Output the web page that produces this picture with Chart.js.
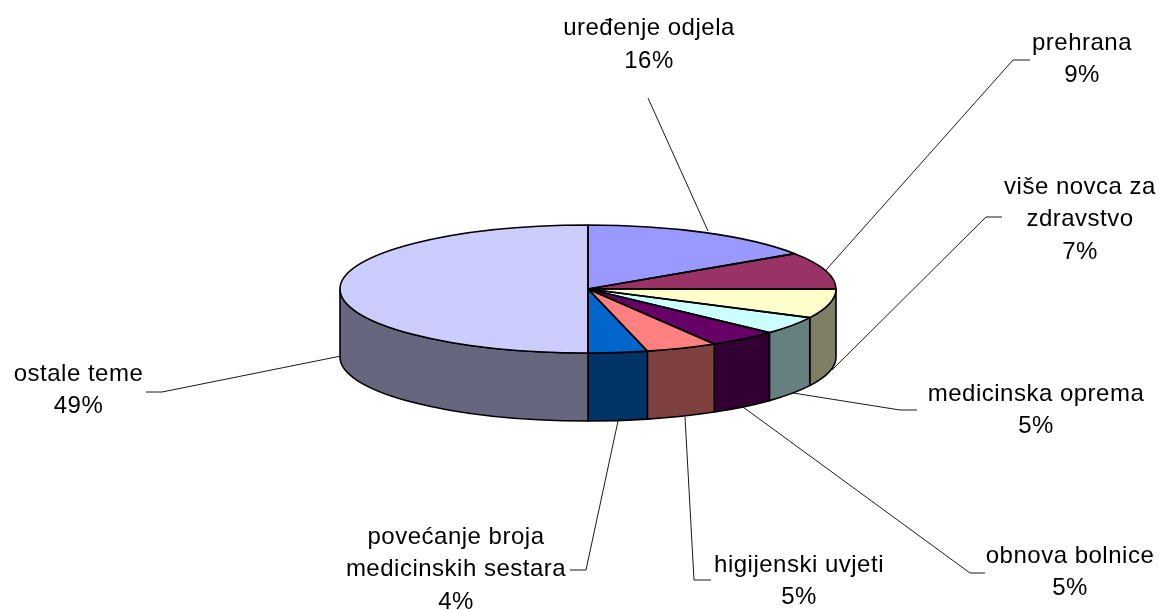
<!DOCTYPE html>
<html><head><meta charset="utf-8">
<style>html,body{margin:0;padding:0;background:#fff}#w{width:1159px;height:610px}canvas{display:block}</style>
<script src="https://cdn.jsdelivr.net/npm/chart.js@4/dist/chart.umd.min.js"></script>
</head><body><div id="w"><canvas id="c" width="1159" height="610"></canvas></div>
<script>
const categories = ["uređenje odjela","prehrana","više novca za zdravstvo","medicinska oprema","obnova bolnice","higijenski uvjeti","povećanje broja medicinskih sestara","ostale teme"];
const values = [15.5,9.2,7.3,4.5,4.5,4.6,3.8,49.4];
const percentLabels = ["16%","9%","7%","5%","5%","5%","4%","49%"];
const colors = ["#9999FF","#993366","#FFFFCC","#CCFFFF","#660066","#FF8080","#0066CC","#CCCCFF"];
const labelLines = [["uređenje odjela"],["prehrana"],["više novca za","zdravstvo"],["medicinska oprema"],["obnova bolnice"],["higijenski uvjeti"],["povećanje broja","medicinskih sestara"],["ostale teme"]];
// layout of the callouts: label centre x, first line y, leader polyline
const callouts = [
 {x:649,y:28.5,line:[[648,98],[708,231]]},
 {x:1082,y:43,line:[[1030,60],[1013,60],[826,270]]},
 {x:1080,y:187,line:[[1002,217],[986,217],[832,370]]},
 {x:1036,y:394,line:[[917,410],[900,410],[793,393]]},
 {x:1070,y:556,line:[[985,573],[970,573],[743,407]]},
 {x:799,y:565,line:[[711,580],[694,580],[685,417]]},
 {x:456,y:537,line:[[570,570],[586,570],[618,421]]},
 {x:78.5,y:374,line:[[146,392],[162,392],[341,356]]}
];
const squash = 64/248, depth = 68, lineGap = 32.5;
const halve = h => '#'+[1,3,5].map(i=>(Math.floor(parseInt(h.substr(i,2),16)/2)).toString(16).padStart(2,'0')).join('');

const pie3d = {
  id:'pie3d',
  beforeDatasetsDraw(chart){
    const ctx = chart.ctx, arcs = chart.getDatasetMeta(0).data;
    ctx.save();
    ctx.lineWidth = 1.6; ctx.strokeStyle = '#000'; ctx.lineJoin='round';
    arcs.forEach((el,i)=>{
      const a = Math.max(el.startAngle,0), b = Math.min(el.endAngle,Math.PI);
      if(a>=b) return;
      const rx = el.outerRadius, ry = rx*squash;
      ctx.beginPath();
      ctx.ellipse(el.x,el.y,rx,ry,0,a,b);
      ctx.ellipse(el.x,el.y+depth,rx,ry,0,b,a,true);
      ctx.closePath();
      ctx.fillStyle = halve(colors[i]);
      ctx.fill(); ctx.stroke();
    });
    ctx.restore();
    ctx.save();
    const c = arcs[0];
    ctx.translate(0,c.y); ctx.scale(1,squash); ctx.translate(0,-c.y);
  },
  afterDatasetsDraw(chart){
    const ctx = chart.ctx, arcs = chart.getDatasetMeta(0).data;
    ctx.restore();
    ctx.save();
    ctx.lineWidth = 1.6; ctx.strokeStyle = '#000'; ctx.lineJoin='round';
    arcs.forEach(el=>{
      const rx = el.outerRadius, ry = rx*squash;
      ctx.beginPath();
      ctx.moveTo(el.x,el.y);
      ctx.ellipse(el.x,el.y,rx,ry,0,el.startAngle,el.endAngle);
      ctx.closePath();
      ctx.stroke();
    });
    ctx.lineWidth = 1; ctx.strokeStyle = '#1a1a1a';
    callouts.forEach(k=>{
      ctx.beginPath();
      k.line.forEach((p,j)=> j? ctx.lineTo(p[0],p[1]) : ctx.moveTo(p[0],p[1]));
      ctx.stroke();
    });
    ctx.fillStyle='#000'; ctx.textAlign='center'; ctx.textBaseline='middle';
    ctx.font='24px "Liberation Sans", Arial, sans-serif';
    ctx.letterSpacing='0.5px';
    callouts.forEach((k,i)=>{
      const lines = labelLines[i].concat(percentLabels[i]);
      lines.forEach((t,j)=>ctx.fillText(t,k.x,k.y+j*lineGap));
    });
    ctx.restore();
  }
};

new Chart(document.getElementById('c'),{
  type:'pie',
  data:{labels:categories,datasets:[{data:values,backgroundColor:colors,borderWidth:0,hoverOffset:0}]},
  options:{
    responsive:false,animation:false,radius:248,
    layout:{padding:{left:17,bottom:32}},
    plugins:{legend:{display:false},tooltip:{enabled:false}}
  },
  plugins:[pie3d]
});
</script></body></html>
